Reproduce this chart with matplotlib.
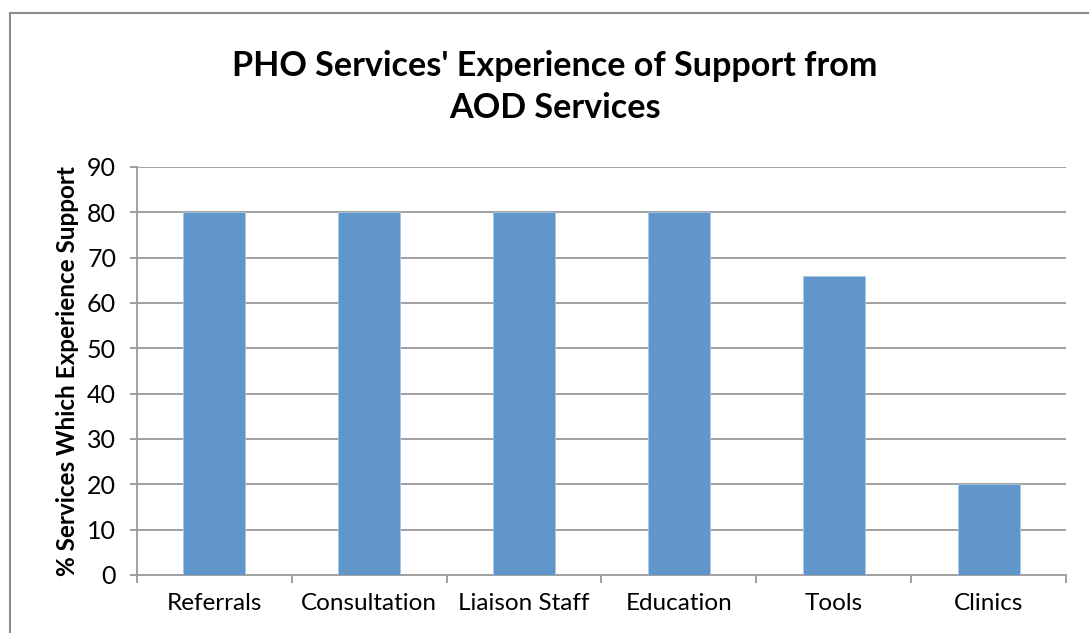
import numpy as np
import matplotlib.pyplot as plt
from matplotlib.patches import Rectangle

categories = ['Referrals', 'Consultation', 'Liaison Staff', 'Education', 'Tools', 'Clinics']
pct_support = [80, 80, 80, 80, 66, 20]
y_ticks = [0, 10, 20, 30, 40, 50, 60, 70, 80, 90]

plt.rcParams['font.family'] = ['Lato', 'DejaVu Sans']

fig = plt.figure(figsize=(10.89, 6.33), dpi=100)
ax = fig.add_axes([137/1089, 1 - 575/633, (1066 - 137)/1089, (575 - 167)/633])

# chart frame (runs off the right and bottom edges)
fig.patches.append(Rectangle((10/1089, -0.05), 1.2, 1 - 13/633 + 0.05,
                             transform=fig.transFigure, fill=False,
                             edgecolor='#8c8c8c', linewidth=1.5))

x = np.arange(len(categories))
ax.bar(x, pct_support, width=0.4, color='#6096C9', edgecolor='#a9c6e6',
       linewidth=0.6, zorder=3)

ax.set_xlim(-0.5, len(categories) - 0.5)
ax.set_ylim(0, 90)
ax.set_yticks(y_ticks)
ax.yaxis.grid(True, color='#a0a0a0', linewidth=1.4, zorder=0)
ax.set_axisbelow(True)

for side in ['top', 'right']:
    ax.spines[side].set_visible(False)
for side in ['left', 'bottom']:
    ax.spines[side].set_color('#a0a0a0')
    ax.spines[side].set_linewidth(1.4)

ax.set_xticks(x)
ax.set_xticklabels(categories, fontsize=17.5)
ax.tick_params(axis='x', length=0, pad=13)
ax.set_xticks(np.arange(len(categories) + 1) - 0.5, minor=True)
ax.tick_params(axis='x', which='minor', length=6, width=1.4, color='#a0a0a0')
ax.tick_params(axis='y', length=5, width=1.4, color='#a0a0a0', labelsize=18, pad=10)

ax.set_ylabel('% Services Which Experience Support', fontsize=17.5, fontweight='bold',
              labelpad=6)

fig.text(555/1089, 1 - 87/633, "PHO Services' Experience of Support from\nAOD Services",
         ha='center', va='center', fontsize=24.6, fontweight='bold', linespacing=1.42)

fig.savefig('out.png', dpi=100)
